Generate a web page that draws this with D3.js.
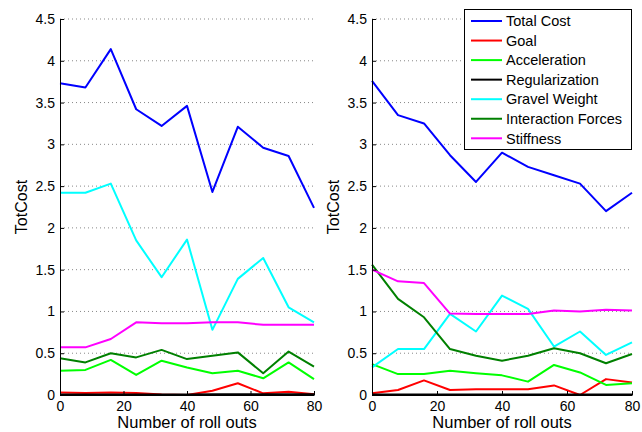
<!DOCTYPE html>
<html>
<head>
<meta charset="utf-8">
<script src="https://cdn.jsdelivr.net/npm/d3@7"></script>
<style>
  body { margin: 0; background: #fff; }
  text { font-family: "Liberation Sans", Arial, sans-serif; fill: #000; }
</style>
</head>
<body>
<script>
'use strict';

// number of roll outs on the x axis
const rollouts = [0, 8, 16, 24, 32, 40, 48, 56, 64, 72, 80];
const xTicks = [0, 20, 40, 60, 80];
const yTicks = [0, 0.5, 1, 1.5, 2, 2.5, 3, 3.5, 4, 4.5];

const seriesNames = ['Total Cost', 'Goal', 'Acceleration', 'Regularization',
  'Gravel Weight', 'Interaction Forces', 'Stiffness'];
const seriesColors = ['#0000ff', '#ff0000', '#00ff00', '#000000',
  '#00ffff', '#008000', '#ff00ff'];

// left plot
const leftTotal = [3.73, 3.68, 4.14, 3.42, 3.22, 3.46, 2.43, 3.21, 2.96, 2.86, 2.24];
const leftGoal = [0.03, 0.025, 0.03, 0.025, 0.005, 0.0, 0.05, 0.14, 0.02, 0.04, 0.01];
const leftAccel = [0.29, 0.30, 0.42, 0.24, 0.41, 0.33, 0.26, 0.29, 0.20, 0.39, 0.19];
const leftReg = [0.005, 0.005, 0.005, 0.005, 0.005, 0.005, 0.008, 0.01, 0.01, 0.01, 0.01];
const leftGravel = [2.42, 2.42, 2.53, 1.85, 1.41, 1.86, 0.78, 1.39, 1.64, 1.05, 0.87];
const leftInter = [0.44, 0.39, 0.50, 0.45, 0.54, 0.43, 0.47, 0.51, 0.26, 0.52, 0.34];
const leftStiff = [0.57, 0.57, 0.67, 0.87, 0.86, 0.86, 0.87, 0.87, 0.84, 0.84, 0.84];

// right plot
const rightTotal = [3.76, 3.35, 3.25, 2.87, 2.55, 2.90, 2.73, 2.63, 2.53, 2.20, 2.42];
const rightGoal = [0.02, 0.06, 0.175, 0.06, 0.07, 0.07, 0.07, 0.115, 0.0, 0.19, 0.15];
const rightAccel = [0.37, 0.25, 0.25, 0.29, 0.26, 0.235, 0.16, 0.36, 0.27, 0.12, 0.14];
const rightReg = [0.005, 0.005, 0.005, 0.005, 0.005, 0.005, 0.005, 0.005, 0.005, 0.005, 0.005];
const rightGravel = [0.33, 0.55, 0.55, 0.97, 0.76, 1.19, 1.03, 0.58, 0.76, 0.48, 0.63];
const rightInter = [1.56, 1.15, 0.93, 0.55, 0.47, 0.41, 0.47, 0.56, 0.50, 0.38, 0.49];
const rightStiff = [1.50, 1.36, 1.34, 0.975, 0.97, 0.97, 0.97, 1.01, 1.0, 1.02, 1.01];

const width = 642;
const height = 432;
const plotTop = 19;
const plotBottom = 395;

const svg = d3.select('body').append('svg')
  .attr('width', width)
  .attr('height', height);

function drawPanel(x0, x1, series) {
  const x = d3.scaleLinear().domain([0, 80]).range([x0, x1]);
  const y = d3.scaleLinear().domain([0, 4.5]).range([plotBottom, plotTop]);
  const g = svg.append('g');

  // dotted grid
  g.append('g').selectAll('line')
    .data(yTicks.filter(d => d > 0))
    .join('line')
      .attr('x1', x0).attr('x2', x1)
      .attr('y1', d => y(d)).attr('y2', d => y(d))
      .attr('stroke', '#888')
      .attr('stroke-width', 1)
      .attr('stroke-dasharray', '1,3');

  const line = d3.line()
    .x((d, i) => x(rollouts[i]))
    .y(d => y(d));

  g.append('g').selectAll('path')
    .data(series)
    .join('path')
      .attr('d', d => line(d))
      .attr('fill', 'none')
      .attr('stroke', (d, i) => seriesColors[i])
      .attr('stroke-width', 2)
      .attr('stroke-linejoin', 'round');

  const yAxis = g.append('g')
    .attr('transform', `translate(${x0},0)`)
    .call(d3.axisLeft(y).tickValues(yTicks).tickSize(-4).tickSizeOuter(0)
      .tickPadding(5).tickFormat(d => d));

  const xAxis = g.append('g')
    .attr('transform', `translate(0,${plotBottom})`)
    .call(d3.axisBottom(x).tickValues(xTicks).tickSize(-4).tickSizeOuter(0)
      .tickPadding(6));

  [yAxis, xAxis].forEach(a => {
    a.selectAll('text').attr('font-size', 14).attr('font-family', null);
    a.select('.domain').attr('stroke', '#000');
    a.selectAll('.tick line').attr('stroke', '#000');
  });

  g.append('text')
    .attr('x', (x0 + x1) / 2)
    .attr('y', 428)
    .attr('text-anchor', 'middle')
    .attr('font-size', 16.5)
    .text('Number of roll outs');

  g.append('text')
    .attr('transform', `translate(${x0 - 33},${(plotTop + plotBottom) / 2}) rotate(-90)`)
    .attr('text-anchor', 'middle')
    .attr('font-size', 16)
    .text('TotCost');
}

drawPanel(60, 314, [leftTotal, leftGoal, leftAccel, leftReg, leftGravel, leftInter, leftStiff]);
drawPanel(372, 632, [rightTotal, rightGoal, rightAccel, rightReg, rightGravel, rightInter, rightStiff]);

// legend on the right plot
const legend = svg.append('g');
legend.append('rect')
  .attr('x', 464.5).attr('y', 9.5)
  .attr('width', 167).attr('height', 140)
  .attr('fill', '#fff')
  .attr('stroke', '#000');

const item = legend.selectAll('g.item')
  .data(seriesNames)
  .join('g')
    .attr('class', 'item')
    .attr('transform', (d, i) => `translate(0,${21 + i * 19.55})`);

item.append('line')
  .attr('x1', 471).attr('x2', 502)
  .attr('stroke', (d, i) => seriesColors[i])
  .attr('stroke-width', 2);

item.append('text')
  .attr('x', 506)
  .attr('dy', '0.36em')
  .attr('font-size', 14.5)
  .text(d => d);
</script>
</body>
</html>
